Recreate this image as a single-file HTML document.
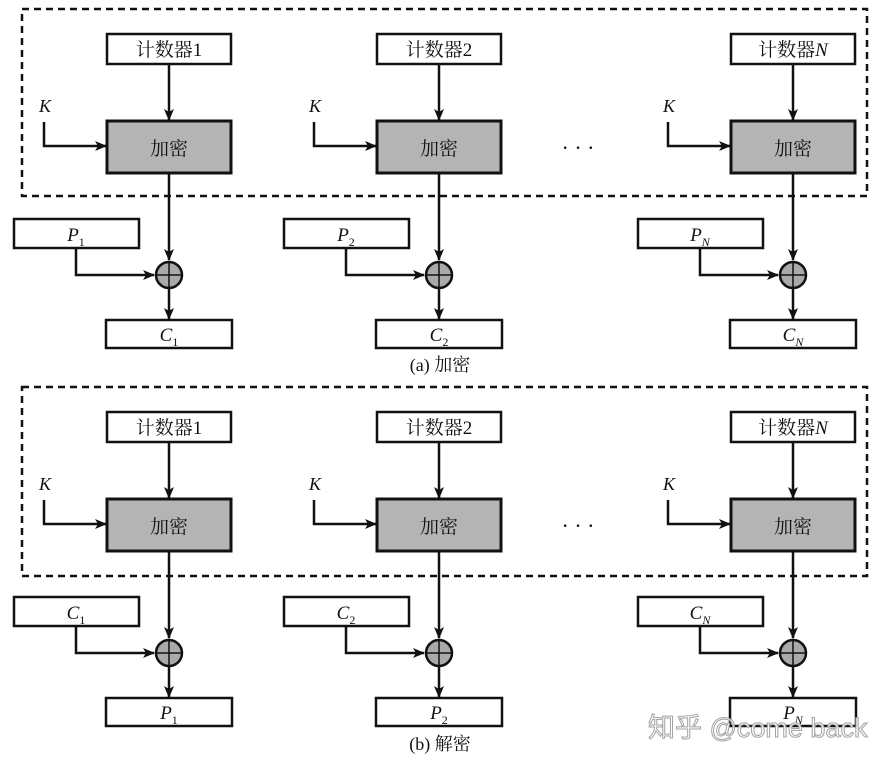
<!DOCTYPE html>
<html><head><meta charset="utf-8"><style>
html,body{margin:0;padding:0;background:#fff;}
svg{display:block;}
text{font-family:"Liberation Serif","Noto Serif CJK SC",serif;fill:#111;}
.i{font-style:italic;}
</style></head><body>
<svg width="890" height="764" viewBox="0 0 890 764" xmlns="http://www.w3.org/2000/svg">
<defs>
<marker id="a" markerWidth="12" markerHeight="10" refX="11" refY="5" orient="auto" markerUnits="userSpaceOnUse">
<path d="M0,0 L12,5 L0,10 L3,5 Z" fill="#111"/></marker>
<g id="col">
<rect x="-62" y="0" width="124" height="30" fill="#fff" stroke="#111" stroke-width="2.5"/>
<line x1="0" y1="30" x2="0" y2="86" stroke="#111" stroke-width="2.5" marker-end="url(#a)"/>
<rect x="-62" y="87" width="124" height="52" fill="#b4b4b4" stroke="#111" stroke-width="3"/>
<text x="0" y="121" font-size="19" text-anchor="middle">加密</text>
<text x="-124" y="78" font-size="18" class="i" text-anchor="middle">K</text>
<polyline points="-125,88 -125,112 -63,112" fill="none" stroke="#111" stroke-width="2.5" marker-end="url(#a)"/>
<line x1="0" y1="139" x2="0" y2="226" stroke="#111" stroke-width="2.5" marker-end="url(#a)"/>
<rect x="-155" y="185" width="125" height="29" fill="#fff" stroke="#111" stroke-width="2.5"/>
<polyline points="-93,214 -93,241 -15,241" fill="none" stroke="#111" stroke-width="2.5" marker-end="url(#a)"/>
<circle cx="0" cy="241" r="13" fill="#aaa" stroke="#111" stroke-width="2.5"/>
<line x1="-13" y1="241" x2="13" y2="241" stroke="#111" stroke-width="1.5"/>
<line x1="0" y1="228" x2="0" y2="254" stroke="#111" stroke-width="1.5"/>
<line x1="0" y1="254" x2="0" y2="285" stroke="#111" stroke-width="2.5" marker-end="url(#a)"/>
<rect x="-63" y="286" width="126" height="28" fill="#fff" stroke="#111" stroke-width="2.5"/>
</g>
</defs>
<!-- top -->
<g transform="translate(169,34)"><use href="#col"/></g>
<g transform="translate(439,34)"><use href="#col"/></g>
<g transform="translate(793,34)"><use href="#col"/></g>
<rect x="22" y="9" width="845" height="187" fill="none" stroke="#111" stroke-width="2.5" stroke-dasharray="7,5"/>
<text x="169" y="56" font-size="19" text-anchor="middle">计数器1</text>
<text x="439" y="56" font-size="19" text-anchor="middle">计数器2</text>
<text x="793" y="56" font-size="19" text-anchor="middle">计数器<tspan class="i">N</tspan></text>
<text x="578" y="155" font-size="22" text-anchor="middle">· · ·</text>
<text x="76" y="241" font-size="19" text-anchor="middle"><tspan class="i">P</tspan><tspan font-size="12" dy="5">1</tspan></text>
<text x="346" y="241" font-size="19" text-anchor="middle"><tspan class="i">P</tspan><tspan font-size="12" dy="5">2</tspan></text>
<text x="700" y="241" font-size="19" text-anchor="middle"><tspan class="i">P</tspan><tspan font-size="12" dy="5" class="i">N</tspan></text>
<text x="169" y="341" font-size="19" text-anchor="middle"><tspan class="i">C</tspan><tspan font-size="12" dy="5">1</tspan></text>
<text x="439" y="341" font-size="19" text-anchor="middle"><tspan class="i">C</tspan><tspan font-size="12" dy="5">2</tspan></text>
<text x="793" y="341" font-size="19" text-anchor="middle"><tspan class="i">C</tspan><tspan font-size="12" dy="5" class="i">N</tspan></text>
<text x="440" y="371" font-size="18" text-anchor="middle">(a) 加密</text>
<!-- bottom -->
<g transform="translate(0,378)">
<g transform="translate(169,34)"><use href="#col"/></g>
<g transform="translate(439,34)"><use href="#col"/></g>
<g transform="translate(793,34)"><use href="#col"/></g>
<rect x="22" y="9" width="845" height="189" fill="none" stroke="#111" stroke-width="2.5" stroke-dasharray="7,5"/>
<text x="169" y="56" font-size="19" text-anchor="middle">计数器1</text>
<text x="439" y="56" font-size="19" text-anchor="middle">计数器2</text>
<text x="793" y="56" font-size="19" text-anchor="middle">计数器<tspan class="i">N</tspan></text>
<text x="578" y="155" font-size="22" text-anchor="middle">· · ·</text>
<text x="76" y="241" font-size="19" text-anchor="middle"><tspan class="i">C</tspan><tspan font-size="12" dy="5">1</tspan></text>
<text x="346" y="241" font-size="19" text-anchor="middle"><tspan class="i">C</tspan><tspan font-size="12" dy="5">2</tspan></text>
<text x="700" y="241" font-size="19" text-anchor="middle"><tspan class="i">C</tspan><tspan font-size="12" dy="5" class="i">N</tspan></text>
<text x="169" y="341" font-size="19" text-anchor="middle"><tspan class="i">P</tspan><tspan font-size="12" dy="5">1</tspan></text>
<text x="439" y="341" font-size="19" text-anchor="middle"><tspan class="i">P</tspan><tspan font-size="12" dy="5">2</tspan></text>
<text x="793" y="341" font-size="19" text-anchor="middle"><tspan class="i">P</tspan><tspan font-size="12" dy="5" class="i">N</tspan></text>
<text x="440" y="372" font-size="18" text-anchor="middle">(b) 解密</text>
</g>
<text x="648" y="737" font-size="27" style="font-family:'Liberation Sans','Noto Sans CJK SC',sans-serif;fill:#fff;stroke:#999;stroke-width:1;opacity:0.9">知乎 @come back</text>
</svg>
</body></html>
